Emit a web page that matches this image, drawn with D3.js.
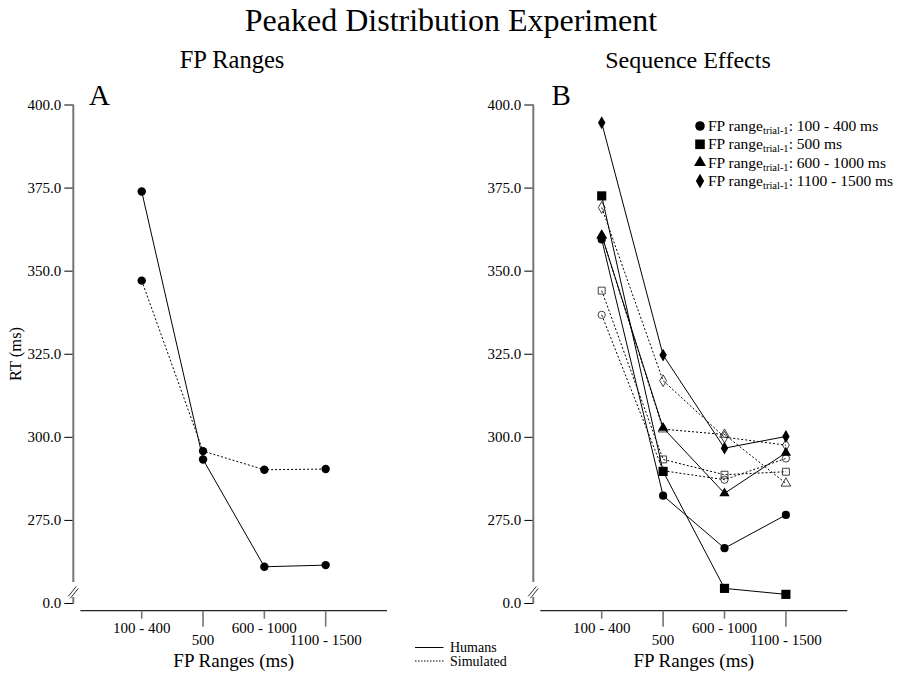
<!DOCTYPE html>
<html><head><meta charset="utf-8">
<script src="https://cdn.jsdelivr.net/npm/d3@7"></script>
<style>
body{margin:0;background:#fff}
svg{display:block}
text{font-family:"Liberation Serif","Times New Roman",Times,serif;fill:#000}
</style>
</head><body>
<svg id="c" width="902" height="679"></svg>
<script>
// ---------------- data ----------------
const categories = ["100 - 400", "500", "600 - 1000", "1100 - 1500"];
const yTicks = [250, 275, 300, 325, 350, 375, 400];
const yTickLabels = ["0.0", "275.0", "300.0", "325.0", "350.0", "375.0", "400.0"];

// Panel A: FP Ranges
const aHumans    = [373.8, 293.2, 260.9, 261.4];
const aSimulated = [347.0, 295.7, 290.1, 290.3];

// Panel B: Sequence effects (by FP range on trial-1)
const seqNames = ["100 - 400 ms", "500 ms", "600 - 1000 ms", "1100 - 1500 ms"];
const bHumansCircle   = [359.4, 282.3, 266.5, 276.5];
const bHumansSquare   = [372.5, 289.6, 254.4, 252.6];
const bHumansTriangle = [360.7, 302.7, 283.0, 295.2];
const bHumansDiamond  = [394.5, 324.6, 296.6, 300.1];
const bSimCircle   = [336.7, 289.8, 287.1, 293.5];
const bSimSquare   = [344.0, 293.2, 288.6, 289.5];
const bSimTriangle = [360.5, 302.3, 300.7, 286.0];
const bSimDiamond  = [369.0, 316.9, 299.9, 297.5];

const bHumans = [bHumansCircle, bHumansSquare, bHumansTriangle, bHumansDiamond];
const bSim = [bSimCircle, bSimSquare, bSimTriangle, bSimDiamond];

// ---------------- drawing ----------------
const svg = d3.select("#c");
const y = d3.scaleLinear().domain([250, 400]).range([603, 104.5]);
const xA = d3.scaleLinear().domain([0, 5]).range([80.4, 387]);
const xB = d3.scaleLinear().domain([0, 5]).range([540.3, 847.3]);
const axisXA = 73.3, axisXB = 533.3;
const xAxisY = 610.7;

const symTypes = [d3.symbolCircle, d3.symbolSquare, d3.symbolTriangle, d3.symbolDiamond];
const filledSizes = [52, 84, 46, 48];
const openSizes = [42, 48, 40, 40];
const legendSizes = [72, 92, 62, 60];

function drawAxes(x, axX) {
  const ya = svg.append("g").attr("transform", `translate(${axX},0)`)
    .call(d3.axisLeft(y).tickValues(yTicks).tickFormat((d, i) => yTickLabels[i]).tickSize(9).tickPadding(3));
  ya.select(".domain").remove();
  ya.attr("font-size", 15).attr("font-family", null);
  ya.selectAll(".tick line").attr("stroke", "#000").attr("stroke-width", 1);
  // axis line with break
  svg.append("line").attr("x1", axX).attr("x2", axX).attr("y1", y(400)).attr("y2", y(256.3))
    .attr("stroke", "#777").attr("stroke-width", 2);
  svg.append("line").attr("x1", axX).attr("x2", axX).attr("y1", y(251.8)).attr("y2", y(250) + 0.5)
    .attr("stroke", "#777").attr("stroke-width", 2);
  const yb = y(253.2);
  svg.append("line").attr("x1", axX - 5).attr("y1", yb + 4).attr("x2", axX + 3).attr("y2", yb - 6)
    .attr("stroke", "#333").attr("stroke-width", 1);
  svg.append("line").attr("x1", axX - 3).attr("y1", yb + 6).attr("x2", axX + 5).attr("y2", yb - 4)
    .attr("stroke", "#333").attr("stroke-width", 1);

  // x axis
  const xa = svg.append("g").attr("transform", `translate(0,${xAxisY})`);
  xa.append("line").attr("x1", x(0)).attr("x2", x(5)).attr("y1", 0).attr("y2", 0)
    .attr("stroke", "#222").attr("stroke-width", 1.2);
  const t = xa.selectAll("g.t").data(categories).join("g").attr("class", "t")
    .attr("transform", (d, i) => `translate(${x(i + 1)},0)`);
  t.append("line").attr("y1", 0).attr("y2", (d, i) => i % 2 ? 16 : 8)
    .attr("stroke", "#777").attr("stroke-width", 1.6);
  t.append("text").attr("text-anchor", "middle").attr("font-size", 15)
    .attr("y", (d, i) => i % 2 ? 34.5 : 22.5).text(d => d);
  svg.append("text").attr("x", (x(0) + x(5)) / 2).attr("y", 667).attr("text-anchor", "middle")
    .attr("font-size", 19).text("FP Ranges (ms)");
}

function drawSeries(x, vals, dotted) {
  const line = d3.line().x((d, i) => x(i + 1)).y(d => y(d));
  svg.append("path").attr("d", line(vals)).attr("fill", "none").attr("stroke", "#000")
    .attr("stroke-width", 1).attr("stroke-dasharray", dotted ? "2,2" : null);
}
function drawMarkers(x, vals, sym, size, filled) {
  svg.append("g").selectAll("path").data(vals).join("path")
    .attr("transform", (d, i) => `translate(${x(i + 1)},${y(d)})`)
    .attr("d", d3.symbol().type(sym).size(size)())
    .attr("fill", filled ? "#000" : "none")
    .attr("stroke", filled ? "none" : "#111")
    .attr("stroke-width", 0.8);
}

// Titles
svg.append("text").attr("x", 451).attr("y", 31).attr("text-anchor", "middle").attr("font-size", 32)
  .text("Peaked Distribution Experiment");
svg.append("text").attr("x", 232).attr("y", 68).attr("text-anchor", "middle").attr("font-size", 24.5).text("FP Ranges");
svg.append("text").attr("x", 688).attr("y", 68).attr("text-anchor", "middle").attr("font-size", 24).text("Sequence Effects");
svg.append("text").attr("x", 89).attr("y", 105).attr("font-size", 29).text("A");
svg.append("text").attr("x", 551.5).attr("y", 105).attr("font-size", 29).text("B");
svg.append("text").attr("transform", "translate(20.5,354) rotate(-90)").attr("text-anchor", "middle")
  .attr("font-size", 16.5).text("RT (ms)");

// Panel A
drawAxes(xA, axisXA);
drawSeries(xA, aSimulated, true);
drawSeries(xA, aHumans, false);
drawMarkers(xA, aSimulated, d3.symbolCircle, 56, true);
drawMarkers(xA, aHumans, d3.symbolCircle, 56, true);

// Panel B
drawAxes(xB, axisXB);
bSim.forEach(v => drawSeries(xB, v, true));
bHumans.forEach(v => drawSeries(xB, v, false));
bSim.forEach((v, k) => drawMarkers(xB, v, symTypes[k], openSizes[k], false));
bHumans.forEach((v, k) => drawMarkers(xB, v, symTypes[k], filledSizes[k], true));

// Legend B (top right)
const lg = svg.append("g");
const rowsY = [126, 144.3, 162.6, 181];
seqNames.forEach((name, k) => {
  lg.append("path").attr("transform", `translate(700,${rowsY[k]})`)
    .attr("d", d3.symbol().type(symTypes[k]).size(legendSizes[k])()).attr("fill", "#000");
  const tx = lg.append("text").attr("x", 708).attr("y", rowsY[k] + 5).attr("font-size", 15.5);
  tx.append("tspan").text("FP range");
  tx.append("tspan").attr("font-size", 10.5).attr("dy", 3).text("trial-1");
  tx.append("tspan").attr("dy", -3).text(": " + name);
});

// Legend bottom (line types)
const lb = svg.append("g");
lb.append("line").attr("x1", 415).attr("x2", 443.5).attr("y1", 647.5).attr("y2", 647.5)
  .attr("stroke", "#000").attr("stroke-width", 1);
lb.append("text").attr("x", 450).attr("y", 652).attr("font-size", 14).text("Humans");
lb.append("line").attr("x1", 415).attr("x2", 443.5).attr("y1", 661).attr("y2", 661)
  .attr("stroke", "#000").attr("stroke-width", 1).attr("stroke-dasharray", "1.5,1.5");
lb.append("text").attr("x", 450).attr("y", 665.5).attr("font-size", 14).text("Simulated");
</script>
</body></html>
